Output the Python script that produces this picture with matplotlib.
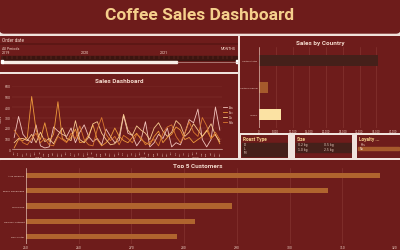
"""
plot.py
Coffee sales dashboard, rebuilt as a static matplotlib figure.
"""

import matplotlib.pyplot as plt
from matplotlib.patches import FancyBboxPatch, Rectangle

# ---- data -------------------------------------------------------------
months = ["Jan", "Feb", "Mar", "Apr", "May", "Jun",
          "Jul", "Aug", "Sep", "Oct", "Nov", "Dec"]
years = ["2019", "2020", "2021", "2022"]
coffee_types = ["Ara", "Exc", "Lib", "Rob"]

sales_ara = [110, 310, 140, 90, 60, 230, 30, 10, 20, 210, 170, 140,
             120, 200, 60, 160, 230, 120, 70, 100, 40, 190, 120, 60,
             80, 320, 150, 130, 30, 90, 260, 20, 60, 140, 100, 200,
             20, 60, 40, 150, 280, 250, 380, 90, 20, 90, 400, 180]
sales_exc = [10, 90, 80, 110, 500, 180, 90, 250, 70, 140, 450, 100,
             70, 110, 190, 60, 70, 130, 230, 90, 30, 60, 110, 200,
             120, 80, 60, 110, 150, 90, 60, 40, 120, 170, 60, 110,
             140, 210, 180, 90, 110, 60, 90, 120, 180, 100, 140, 50]
sales_lib = [60, 100, 100, 80, 140, 60, 160, 70, 100, 50, 130, 200,
             100, 80, 270, 90, 60, 110, 240, 260, 150, 90, 40, 50,
             120, 330, 180, 130, 220, 180, 150, 90, 200, 250, 170, 120,
             160, 270, 230, 120, 160, 240, 180, 120, 170, 240, 130, 70]
sales_rob = [180, 120, 60, 40, 100, 150, 60, 100, 40, 30, 120, 90,
             60, 150, 100, 220, 90, 40, 30, 190, 300, 140, 80, 120,
             40, 130, 100, 60, 140, 110, 40, 70, 90, 30, 150, 210,
             230, 120, 60, 150, 260, 160, 120, 300, 220, 100, 160, 90]

countries = ["United States", "United Kingdom", "Ireland"]
country_sales = [35638.89, 2798.51, 6696.87]

customers = ["Allie Wilmore", "Brenn Dundredge", "Terri Farra",
             "Nealson Cuthbert", "Don Flintiff"]
customer_sales = [317.06, 307.34, 289.10, 282.15, 278.63]

roast_types = ["D", "L", "M"]
sizes = ["0.2 kg", "0.5 kg", "1.0 kg", "2.5 kg"]
loyalty = ["Yes", "No"]

# ---- style ------------------------------------------------------------
W, H = 400, 251
RED = "#6e1c1b"
PEACH = "#f5cf8c"
LIGHT = "#f3d9cc"
GRID = "#8a3a35"
DARK = "#45201a"
TAN = "#a65a2c"
CREAM = "#fbe2a3"
line_colors = ["#f2c4bc", "#ee9a3c", "#f7c98f", "#d9772f"]
FONT = dict(family="Roboto")

fig = plt.figure(figsize=(W / 100, H / 100), dpi=100, facecolor="#f0e2dc")


def panel(x0, y0, x1, y1, pixel=False):
    ax = fig.add_axes([x0 / W, 1 - y1 / H, (x1 - x0) / W, (y1 - y0) / H])
    ax.set_facecolor(RED)
    if pixel:
        ax.set_xlim(0, x1 - x0)
        ax.set_ylim(y1 - y0, 0)
        ax.axis("off")
        ax.add_patch(Rectangle((0, 0), x1 - x0, y1 - y0, color=RED, zorder=0))
    return ax


def style_axis(ax):
    for s in ax.spines.values():
        s.set_visible(False)
    ax.tick_params(colors=LIGHT, labelsize=2.2, length=0, pad=1)


# ---- title ------------------------------------------------------------
tax = fig.add_axes([0, 1 - 35 / H, 1, 35 / H])
tax.set_xlim(0, W)
tax.set_ylim(35, 0)
tax.axis("off")
tax.add_patch(FancyBboxPatch((0, -8), W, 42, boxstyle="round,pad=0,rounding_size=4",
                             color=RED))
tax.text(W / 2, 15.5, "Coffee Sales Dashboard", color=PEACH, fontsize=12.5,
         fontweight="bold", ha="center", va="center", **FONT)

# ---- order date slicer ------------------------------------------------
sax = panel(0, 37, 238, 73, pixel=True)
sax.text(2, 3.5, "Order date", color=LIGHT, fontsize=3.4, va="center", **FONT)
sax.plot([0, 238], [8, 8], color="#5a1614", lw=1.2)
sax.text(2, 11.5, "All Periods", color=LIGHT, fontsize=2.6, va="center", **FONT)
sax.text(236, 11.5, "MONTHS", color=LIGHT, fontsize=2.6, va="center", ha="right", **FONT)
for i, y in enumerate(years[:3]):
    sax.text(2 + i * 79, 16, y, color=LIGHT, fontsize=2.6, va="center", **FONT)
sax.add_patch(Rectangle((1, 19.5), 236, 4, color="#3b1510"))
for k in range(48):
    sax.plot([2 + k * 4.9, 2 + k * 4.9], [20, 23], color="#7a3a30", lw=0.3)
sax.add_patch(Rectangle((2, 24.5), 175, 2, color="#f7ece6"))
sax.plot([177, 237], [25.5, 25.5], color="#d8b8b0", lw=0.4)
sax.add_patch(Rectangle((1, 24), 2, 3, color="#ffffff"))
sax.add_patch(Rectangle((235.5, 24), 2, 3, color="#ffffff"))

# ---- line chart panel -------------------------------------------------
lp = panel(0, 75, 238, 159, pixel=True)
lp.text(119, 7, "Sales Dashboard", color=LIGHT, fontsize=4.6, fontweight="bold",
        ha="center", va="center", **FONT)

lax = fig.add_axes([12 / W, 1 - 150 / H, 210 / W, 63 / H])
lax.set_facecolor(RED)
style_axis(lax)
x = list(range(48))
for vals, name, c in zip([sales_ara, sales_exc, sales_lib, sales_rob],
                         coffee_types, line_colors):
    lax.plot(x, vals, color=c, lw=0.6, label=name)
lax.set_xlim(-0.5, 47.5)
lax.set_ylim(0, 600)
lax.set_yticks(range(0, 601, 100))
lax.grid(axis="y", color=GRID, lw=0.3)
lax.set_xticks(x)
lax.set_xticklabels(months * 4, rotation=90, fontsize=1.6, color=LIGHT)
lax.spines["bottom"].set_visible(True)
lax.spines["bottom"].set_color(LIGHT)
lax.spines["bottom"].set_linewidth(0.4)
lax.set_ylabel("Sales", color=LIGHT, fontsize=2.2, labelpad=1)
for i, y in enumerate(years):
    lax.text(5.5 + i * 12, -0.14, y, transform=lax.get_xaxis_transform(),
             color=LIGHT, fontsize=2.2, ha="center", va="center")
lax.legend(loc="center left", bbox_to_anchor=(1.0, 0.55), frameon=False,
           fontsize=2, labelcolor=LIGHT, handlelength=1.2, borderpad=0,
           labelspacing=0.3)

# ---- sales by country -------------------------------------------------
cp = panel(240, 37, 400, 134, pixel=True)
cp.text(80, 6, "Sales by Country", color=LIGHT, fontsize=4.6, fontweight="bold",
        ha="center", va="center", **FONT)
cax = fig.add_axes([259 / W, 1 - 129 / H, 134 / W, 81 / H])
cax.set_facecolor(RED)
style_axis(cax)
cax.barh(range(3), country_sales, height=0.42, color=[DARK, TAN, CREAM])
cax.set_ylim(2.5, -0.5)
cax.set_xlim(0, 40000)
cax.set_xticks(range(0, 40001, 5000))
cax.set_xticklabels([f"{v:,}" for v in range(0, 40001, 5000)], fontsize=1.8)
cax.set_yticks(range(3))
cax.set_yticklabels(countries, fontsize=1.6)
cax.grid(axis="x", color=GRID, lw=0.4)
cax.set_axisbelow(True)
cax.axvline(0, color=LIGHT, lw=0.4)

# ---- slicer cards -----------------------------------------------------
rp = panel(241, 136, 288, 159, pixel=True)
rp.text(2, 4, "Roast Type", color=PEACH, fontsize=3.4, fontweight="bold",
        va="center", **FONT)
rp.add_patch(Rectangle((1, 7.5), 45, 13, color=DARK))
for i, r in enumerate(roast_types):
    rp.text(3, 9.5 + i * 4, r, color=LIGHT, fontsize=2.2, va="center")

zp = panel(295, 136, 352, 159, pixel=True)
zp.text(2, 4, "Size", color=PEACH, fontsize=3.4, fontweight="bold",
        va="center", **FONT)
zp.add_patch(Rectangle((1, 7.5), 55, 9, color=DARK))
for i, s in enumerate(sizes):
    zp.text(3 + (i % 2) * 26, 9.5 + (i // 2) * 4, s, color=LIGHT,
            fontsize=2.2, va="center")

yp = panel(357, 136, 400, 159, pixel=True)
yp.text(2, 4, "Loyalty ...", color=PEACH, fontsize=3.4, fontweight="bold",
        va="center", **FONT)
yp.add_patch(Rectangle((1, 11.5), 41, 3, color=TAN))
for i, l in enumerate(loyalty):
    yp.text(3, 9.5 + i * 4, l, color=LIGHT, fontsize=2.2, va="center")

# ---- top 5 customers --------------------------------------------------
bp = panel(0, 161, 400, 251, pixel=True)
bp.text(198, 5.5, "Top 5 Customers", color=LIGHT, fontsize=4.6, fontweight="bold",
        ha="center", va="center", **FONT)
bax = fig.add_axes([26 / W, 1 - 245 / H, 369 / W, 76 / H])
bax.set_facecolor(RED)
style_axis(bax)
bax.barh(range(5), customer_sales, height=0.34, color="#b0642e")
bax.set_ylim(4.5, -0.5)
bax.set_xlim(250, 320)
bax.set_xticks(range(250, 321, 10))
bax.set_yticks(range(5))
bax.set_yticklabels(customers, fontsize=1.7)
bax.grid(axis="x", color=GRID, lw=0.4)
bax.set_axisbelow(True)
bax.axvline(250, color=LIGHT, lw=0.4)

fig.savefig("out.png", dpi=100, facecolor=fig.get_facecolor())
